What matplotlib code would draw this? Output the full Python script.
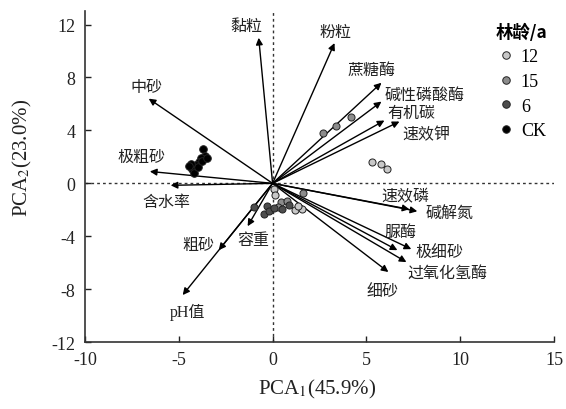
import matplotlib
matplotlib.use('Agg')
import matplotlib.pyplot as plt
from matplotlib.lines import Line2D
import numpy as np

plt.rcParams['font.family'] = ['Liberation Serif', 'Noto Sans CJK SC']
plt.rcParams['mathtext.fontset'] = 'stix'
plt.rcParams['axes.unicode_minus'] = False

# 载荷向量 (箭头终点)
variables = ['黏粒', '中砂', '极粗砂', '含水率', '粗砂', '容重', 'pH值',
             '粉粒', '蔗糖酶', '碱性磷酸酶', '有机碳', '速效钾',
             '速效磷', '碱解氮', '脲酶', '极细砂', '过氧化氢酶', '细砂']
load_x = [-0.74, -6.6, -6.54, -5.43, -2.87, -1.33, -4.79,
          3.3, 5.8, 5.8, 5.96, 6.76,
          7.29, 7.71, 6.65, 7.39, 7.13, 6.17]
load_y = [11.0, 6.4, 0.9, -0.15, -5.05, -3.24, -8.44,
          10.6, 7.6, 6.18, 4.75, 4.67,
          -1.96, -2.11, -5.05, -4.97, -5.95, -6.7]

# 样本得分
groups = ['12', '15', '6', 'CK']
score_x = {
    '12': [5.3, 5.75, 6.1, 0.1, 0.12, 1.2, 1.55, 1.35],
    '15': [2.7, 3.4, 4.2, 1.6, 0.45, 0.75, 0.3],
    '6': [-1.0, -0.3, -0.45, -0.2, 0.5, 0.1, 0.9],
    'CK': [-3.7, -3.6, -3.8, -3.9, -4.1, -4.3, -4.2, -4.0, -3.75, -4.35, -3.5, -4.45],
}
score_y = {
    '12': [1.6, 1.5, 1.05, -0.45, -0.9, -2.0, -1.95, -1.7],
    '15': [3.8, 4.3, 5.05, -0.75, -1.4, -1.3, -1.75],
    '6': [-1.8, -1.7, -2.3, -2.1, -1.95, -1.85, -1.6],
    'CK': [2.6, 2.1, 1.9, 1.6, 1.4, 1.1, 0.8, 1.2, 1.7, 1.5, 1.9, 1.3],
}
colors = {'12': '#c8c8c8', '15': '#8c8c8c', '6': '#4d4d4d', 'CK': '#000000'}

# 标签位置
label_pos = [(-1.38, 11.9), (-6.7, 7.3), (-6.97, 2.03), (-5.64, -1.43),
             (-3.94, -4.67), (-1.0, -4.3), (-4.52, -9.65),
             (3.35, 11.4), (5.27, 8.6), (8.09, 6.7), (7.39, 5.35), (8.19, 3.7),
             (7.07, -0.98), (9.41, -2.26), (6.8, -3.7), (8.88, -5.2),
             (9.31, -6.86), (5.85, -8.14)]

fig = plt.figure(figsize=(5.66, 4.10), dpi=100)
ax = fig.add_axes([0.150, 0.163, 0.829, 0.807])

ax.axhline(0, color='#333333', lw=1.0, ls=(0, (2, 2.2)), zorder=1)
ax.axvline(0, color='#333333', lw=1.0, ls=(0, (2, 2.2)), zorder=1)

for name, lx, ly, (tx, ty) in zip(variables, load_x, load_y, label_pos):
    ax.annotate('', xy=(lx, ly), xytext=(0, 0),
                arrowprops=dict(arrowstyle='-|>', lw=1.0, color='black',
                                mutation_scale=10, shrinkA=0, shrinkB=0),
                zorder=2)
    ax.text(tx, ty, name, fontsize=11.5, ha='center', va='center',
            color='#222222')

for g in groups:
    size = 26 if g != 'CK' else 30
    ax.scatter(score_x[g], score_y[g], s=size, c=colors[g],
               edgecolors='#222222', linewidths=0.7, zorder=3)

ax.set_xlim(-10, 15)
ax.set_ylim(-12, 13)
ax.set_xticks([-10, -5, 0, 5, 10, 15])
ax.set_yticks([-12, -8, -4, 0, 4, 8, 12])
ax.tick_params(direction='in', length=4, width=1.0, labelsize=13,
               colors='#222222')
ax.tick_params(axis='y', pad=7)
ax.tick_params(axis='x', pad=6)
for s in ['top', 'right']:
    ax.spines[s].set_visible(False)
for s in ['left', 'bottom']:
    ax.spines[s].set_linewidth(1.2)
    ax.spines[s].set_color('#333333')

ax.set_xlabel('PCA$_1$(45.9%)', fontsize=15, color='#222222')
ax.set_ylabel('PCA$_2$(23.0%)', fontsize=15, color='#222222')
ax.xaxis.set_label_coords(0.495, -0.105)
ax.yaxis.set_label_coords(-0.108, 0.56)

handles = [Line2D([], [], ls='', marker='o', markersize=5.4,
                  markerfacecolor=colors[g], markeredgecolor='#222222',
                  markeredgewidth=0.7, label=g) for g in groups]
leg = ax.legend(handles=handles, title='林龄/a', loc='upper right',
                bbox_to_anchor=(1.02, 1.015), frameon=False, fontsize=13,
                handletextpad=0.2, labelspacing=0.42, handlelength=1.2,
                title_fontproperties={'weight': 'bold', 'size': 12.5,
                                      'family': ['Noto Sans CJK SC', 'DejaVu Sans']})
leg._legend_box.align = 'left'

fig.savefig('out.png', dpi=100)
